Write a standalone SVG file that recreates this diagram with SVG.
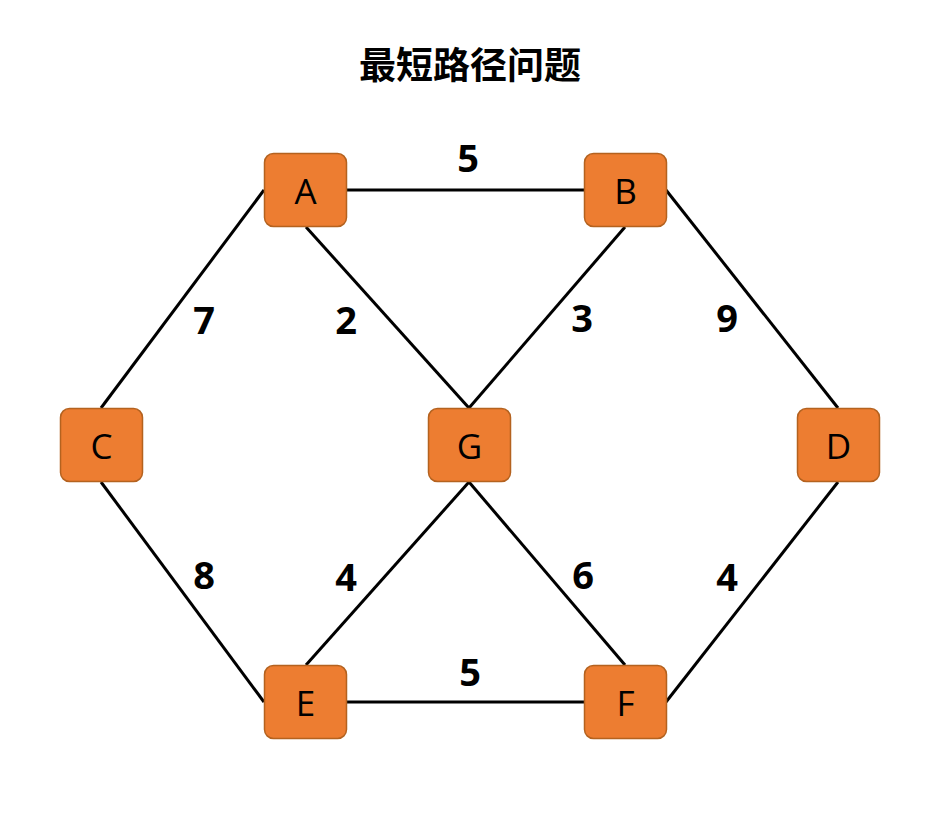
<svg xmlns="http://www.w3.org/2000/svg" width="930" height="838" viewBox="0 0 930 838">
<style>
.node rect{fill:#ED7D31;stroke:#B4621F;stroke-width:1.5}
.node text{font-family:"Open Sans","Noto Sans",sans-serif;font-size:35px;fill:#000;text-anchor:middle;dominant-baseline:central}
.edges line{stroke:#000;stroke-width:3}
.w{font-family:"Open Sans","Noto Sans",sans-serif;font-size:38px;font-weight:bold;fill:#000;text-anchor:middle}
.title{font-family:"Noto Sans CJK SC",sans-serif;font-size:37px;font-weight:bold;fill:#000;text-anchor:middle}
</style>
<rect width="930" height="838" fill="#fff"/>
<text class="title" x="470" y="79">最短路径问题</text>
<g id="edges" class="edges">
<line x1="347" y1="190" x2="584" y2="190"/>
<line x1="264" y1="190" x2="101" y2="408"/>
<line x1="306" y1="227" x2="469" y2="408"/>
<line x1="625" y1="227" x2="469" y2="408"/>
<line x1="666" y1="190" x2="838" y2="408"/>
<line x1="101" y1="482" x2="264" y2="702"/>
<line x1="469" y1="482" x2="306" y2="665"/>
<line x1="469" y1="482" x2="625" y2="665"/>
<line x1="838" y1="482" x2="666" y2="702"/>
<line x1="347" y1="702" x2="584" y2="702"/>
</g>
<g id="weights">
<text class="w" x="468" y="172">5</text>
<text class="w" x="204" y="334">7</text>
<text class="w" x="346" y="334">2</text>
<text class="w" x="582" y="332">3</text>
<text class="w" x="727" y="332">9</text>
<text class="w" x="204" y="589">8</text>
<text class="w" x="346" y="591">4</text>
<text class="w" x="583" y="589">6</text>
<text class="w" x="727" y="591">4</text>
<text class="w" x="470" y="686">5</text>
</g>
<g id="A" class="node"><rect x="264.5" y="153.5" width="82" height="73" rx="9"/><text x="305.5" y="190">A</text></g>
<g id="B" class="node"><rect x="584.5" y="153.5" width="82" height="73" rx="9"/><text x="625.5" y="190">B</text></g>
<g id="C" class="node"><rect x="60.5" y="408.5" width="82" height="73" rx="9"/><text x="101.5" y="445">C</text></g>
<g id="G" class="node"><rect x="428.5" y="408.5" width="82" height="73" rx="9"/><text x="469.5" y="445">G</text></g>
<g id="D" class="node"><rect x="797.5" y="408.5" width="82" height="73" rx="9"/><text x="838.5" y="445">D</text></g>
<g id="E" class="node"><rect x="264.5" y="665.5" width="82" height="73" rx="9"/><text x="305.5" y="702">E</text></g>
<g id="F" class="node"><rect x="584.5" y="665.5" width="82" height="73" rx="9"/><text x="625.5" y="702">F</text></g>
</svg>
